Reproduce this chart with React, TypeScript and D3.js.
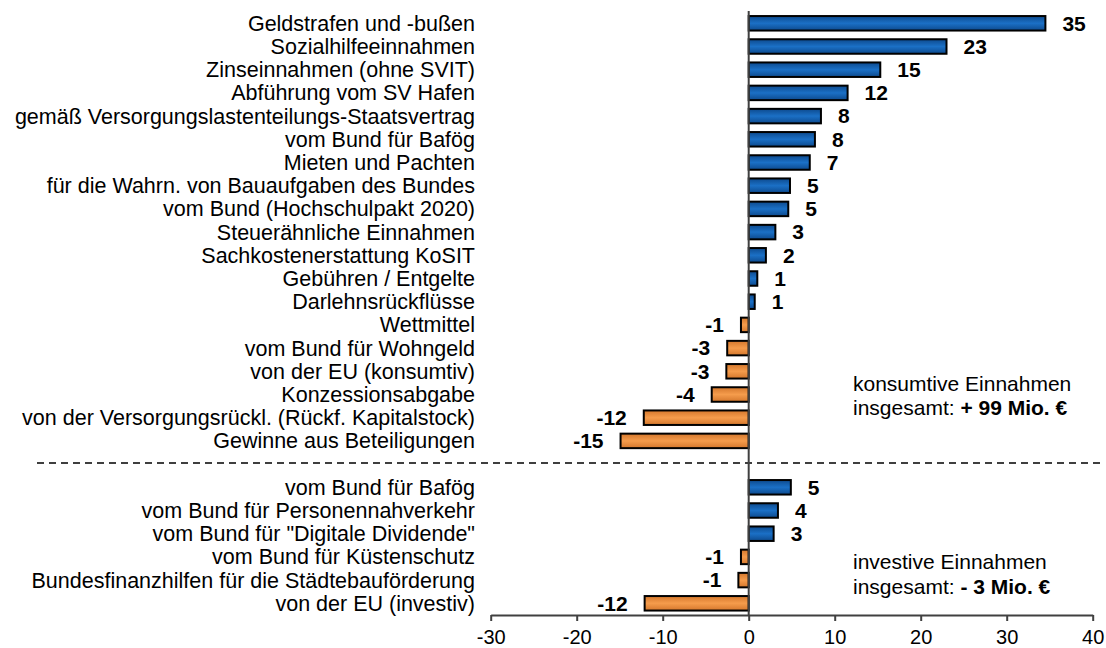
import React, { useEffect, useRef } from "react";
import * as d3 from "d3";

// konsumtive Einnahmen (Mio. €)
const consumCategories = [
  "Geldstrafen und -bußen",
  "Sozialhilfeeinnahmen",
  "Zinseinnahmen (ohne SVIT)",
  "Abführung vom SV Hafen",
  "gemäß Versorgungslastenteilungs-Staatsvertrag",
  "vom Bund für Bafög",
  "Mieten und Pachten",
  "für die Wahrn. von Bauaufgaben des Bundes",
  "vom Bund (Hochschulpakt 2020)",
  "Steuerähnliche Einnahmen",
  "Sachkostenerstattung KoSIT",
  "Gebühren / Entgelte",
  "Darlehnsrückflüsse",
  "Wettmittel",
  "vom Bund für Wohngeld",
  "von der EU (konsumtiv)",
  "Konzessionsabgabe",
  "von der Versorgungsrückl. (Rückf. Kapitalstock)",
  "Gewinne aus Beteiligungen",
];
const consumValues = [34.5, 23.0, 15.3, 11.5, 8.4, 7.7, 7.1, 4.8, 4.6, 3.1, 2.0, 1.0, 0.7, -0.9, -2.5, -2.6, -4.3, -12.2, -14.9];
const consumLabels = ["35", "23", "15", "12", "8", "8", "7", "5", "5", "3", "2", "1", "1", "-1", "-3", "-3", "-4", "-12", "-15"];

// investive Einnahmen (Mio. €)
const investCategories = [
  "vom Bund für Bafög",
  "vom Bund für Personennahverkehr",
  'vom Bund für "Digitale Dividende"',
  "vom Bund für Küstenschutz",
  "Bundesfinanzhilfen für die Städtebauförderung",
  "von der EU (investiv)",
];
const investValues = [4.9, 3.4, 2.9, -0.9, -1.2, -12.1];
const investLabels = ["5", "4", "3", "-1", "-1", "-12"];

const xTicks = [-30, -20, -10, 0, 10, 20, 30, 40];

type Row = { id: string; name: string; value: number; label: string };

const FONT = "Arial, 'Liberation Sans', sans-serif";

const App = () => {
  const ref = useRef<SVGSVGElement>(null);
  const width = 1106;
  const height = 648;

  useEffect(() => {
    const svg = d3.select(ref.current);
    svg.selectAll("*").remove();

    const rows: Row[] = [
      ...consumCategories.map((name, i) => ({ id: "k" + i, name, value: consumValues[i], label: consumLabels[i] })),
      ...investCategories.map((name, i) => ({ id: "i" + i, name, value: investValues[i], label: investLabels[i] })),
    ];
    // one empty slot between the two groups holds the dashed separator
    const domain = [...rows.slice(0, consumCategories.length).map((r) => r.id), "gap", ...rows.slice(consumCategories.length).map((r) => r.id)];

    const x = d3.scaleLinear().domain([-30, 40]).range([490.7, 1092.7]);
    const y = d3.scaleBand<string>().domain(domain).range([11.7, 614.9]).padding(0);
    const barH = 14.5;
    const mid = (id: string) => (y(id) as number) + y.bandwidth() / 2;

    const defs = svg.append("defs");
    const grad = (id: string, edge: string, center: string) => {
      const g = defs.append("linearGradient").attr("id", id).attr("x1", 0).attr("y1", 0).attr("x2", 0).attr("y2", 1);
      g.append("stop").attr("offset", "0%").attr("stop-color", edge);
      g.append("stop").attr("offset", "50%").attr("stop-color", center);
      g.append("stop").attr("offset", "100%").attr("stop-color", edge);
    };
    grad("blueGrad", "#0d4a8e", "#1b70c6");
    grad("orangeGrad", "#d4772c", "#f59c4c");

    // bars
    svg.append("g")
      .selectAll("rect")
      .data(rows)
      .join("rect")
      .attr("x", (d) => x(Math.min(0, d.value)))
      .attr("y", (d) => mid(d.id) - barH / 2)
      .attr("width", (d) => Math.abs(x(d.value) - x(0)))
      .attr("height", barH)
      .attr("fill", (d) => (d.value >= 0 ? "url(#blueGrad)" : "url(#orangeGrad)"))
      .attr("stroke", "#000")
      .attr("stroke-width", 2);

    // category labels
    svg.append("g")
      .selectAll("text")
      .data(rows)
      .join("text")
      .attr("x", 475)
      .attr("y", (d) => mid(d.id))
      .attr("dy", "0.35em")
      .attr("text-anchor", "end")
      .attr("font-family", FONT)
      .attr("font-size", 21.5)
      .attr("fill", "#000")
      .text((d) => d.name);

    // value labels
    svg.append("g")
      .selectAll("text")
      .data(rows)
      .join("text")
      .attr("x", (d) => (d.value >= 0 ? x(d.value) + 17 : x(d.value) - 17))
      .attr("y", (d) => mid(d.id))
      .attr("dy", "0.35em")
      .attr("text-anchor", (d) => (d.value >= 0 ? "start" : "end"))
      .attr("font-family", FONT)
      .attr("font-size", 21)
      .attr("font-weight", "bold")
      .attr("fill", "#000")
      .text((d) => d.label);

    // separator between konsumtiv / investiv
    svg.append("line")
      .attr("x1", 37)
      .attr("x2", 1102)
      .attr("y1", mid("gap") - 1)
      .attr("y2", mid("gap") - 1)
      .attr("stroke", "#000")
      .attr("stroke-width", 1.5)
      .attr("stroke-dasharray", "7,5");

    // zero line
    svg.append("line")
      .attr("x1", x(0))
      .attr("x2", x(0))
      .attr("y1", 11)
      .attr("y2", 615)
      .attr("stroke", "#404040")
      .attr("stroke-width", 2);

    // x axis
    const axis = svg.append("g")
      .attr("transform", "translate(0,615)")
      .call(d3.axisBottom(x).tickValues(xTicks).tickSize(6).tickSizeOuter(0).tickPadding(9).tickFormat((d) => String(d)));
    axis.select(".domain").attr("stroke", "#404040").attr("stroke-width", 2);
    axis.selectAll(".tick line").attr("stroke", "#404040").attr("stroke-width", 2);
    axis.selectAll(".tick text").attr("font-family", FONT).attr("font-size", 20).attr("fill", "#000");

    // annotations
    const note = (x0: number, y0: number, l1: string, l2a: string, l2b: string) => {
      const g = svg.append("g").attr("font-family", FONT).attr("font-size", 21).attr("fill", "#000");
      g.append("text").attr("x", x0).attr("y", y0).text(l1);
      const t = g.append("text").attr("x", x0).attr("y", y0 + 24.5);
      t.append("tspan").text(l2a);
      t.append("tspan").attr("font-weight", "bold").text(l2b);
    };
    note(853, 390.5, "konsumtive Einnahmen", "insgesamt: ", "+ 99 Mio. €");
    note(853, 569, "investive Einnahmen", "insgesamt: ", "- 3 Mio. €");
  }, []);

  return (
    <svg
      ref={ref}
      width={width}
      height={height}
      style={{ position: "absolute", left: 0, top: 0, background: "#fff" }}
    />
  );
};

export default App;
